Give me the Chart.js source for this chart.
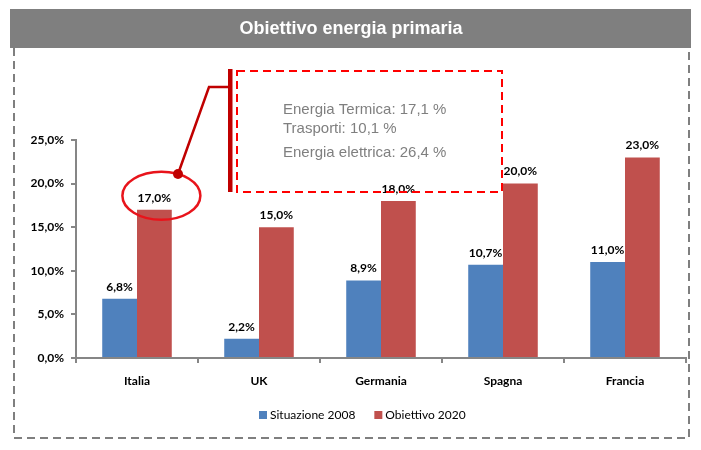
<!DOCTYPE html>
<html>
<head>
<meta charset="utf-8">
<script src="https://cdn.jsdelivr.net/npm/chart.js@4"></script>
<style>
  html, body { margin: 0; padding: 0; background: #fff; }
  #wrap { width: 701px; height: 450px; }
</style>
</head>
<body>
<div id="wrap"><canvas id="myChart" width="701" height="450"></canvas></div>
<script>
const chartTitle = 'Obiettivo energia primaria';
const countries = ['Italia', 'UK', 'Germania', 'Spagna', 'Francia'];
const seriesNames = ['Situazione 2008', 'Obiettivo 2020'];
const situazione2008 = [6.8, 2.2, 8.9, 10.7, 11.0];
const obiettivo2020 = [17.0, 15.0, 18.0, 20.0, 23.0];
const yTicks = [0, 5, 10, 15, 20, 25];
const noteLines = ['Energia Termica: 17,1 %', 'Trasporti: 10,1 %', 'Energia elettrica: 26,4 %'];

const BLUE = '#4F81BD';
const RED = '#C0504D';
const LABEL_FONT = 'Lato, "DejaVu Sans", sans-serif';

function pct(v) {
    return v.toFixed(1).replace('.', ',') + '%';
}

// background, title bar, dashed frame, value labels, callout, legend
const decorations = {
    id: 'decorations',
    beforeDraw(chart) {
        const c = chart.ctx;
        c.save();
        c.fillStyle = '#fff';
        c.fillRect(0, 0, chart.width, chart.height);

        c.strokeStyle = '#7F7F7F';
        c.lineWidth = 2;
        c.setLineDash([8, 5]);
        c.beginPath();
        c.moveTo(14, 48);
        c.lineTo(14, 438);
        c.lineTo(689, 438);
        c.lineTo(689, 48);
        c.stroke();
        c.setLineDash([]);

        c.fillStyle = '#7F7F7F';
        c.fillRect(10, 9, 681, 39);
        c.fillStyle = '#fff';
        c.font = 'bold 18px "Liberation Sans", Arial, sans-serif';
        c.textAlign = 'center';
        c.textBaseline = 'middle';
        c.fillText(chartTitle, 351, 29);
        c.restore();
    },
    afterDatasetsDraw(chart) {
        const c = chart.ctx;
        c.save();
        c.font = 'bold 12px ' + LABEL_FONT;
        c.fillStyle = '#000';
        c.textAlign = 'center';
        c.textBaseline = 'bottom';
        chart.data.datasets.forEach((ds, i) => {
            chart.getDatasetMeta(i).data.forEach((bar, j) => {
                c.fillText(pct(ds.data[j]), bar.x, bar.y - 6);
            });
        });

        // callout on Italia 2020
        const bar = chart.getDatasetMeta(1).data[0];
        const cx = bar.x + 7, cy = bar.y - 14;
        c.strokeStyle = '#E8141B';
        c.lineWidth = 2.5;
        c.beginPath();
        c.ellipse(cx, cy, 39, 24, 0, 0, Math.PI * 2);
        c.stroke();

        c.strokeStyle = '#C00000';
        c.fillStyle = '#C00000';
        c.lineWidth = 2.5;
        c.beginPath();
        c.moveTo(178, 174);
        c.lineTo(209, 87);
        c.lineTo(230, 87);
        c.stroke();
        c.beginPath();
        c.arc(178, 174, 5, 0, Math.PI * 2);
        c.fill();
        c.fillRect(228, 69, 4.5, 123);

        c.strokeStyle = '#FF0000';
        c.lineWidth = 2;
        c.setLineDash([8, 5]);
        c.strokeRect(237, 71, 265, 121);
        c.setLineDash([]);

        c.fillStyle = '#7F7F7F';
        c.font = '15px "Liberation Sans", Arial, sans-serif';
        c.textAlign = 'left';
        c.textBaseline = 'middle';
        const ys = [110, 129, 153];
        noteLines.forEach((t, k) => c.fillText(t, 283, ys[k]));

        // legend
        c.font = '12px ' + LABEL_FONT;
        c.textBaseline = 'middle';
        let x = 259;
        chart.data.datasets.forEach((ds) => {
            c.fillStyle = ds.backgroundColor;
            c.fillRect(x, 411, 8, 8);
            c.fillStyle = '#000';
            c.fillText(ds.label, x + 11, 415.5);
            x += 11 + c.measureText(ds.label).width + 19;
        });
        c.restore();
    }
};

const ctx = document.getElementById('myChart').getContext('2d');
const myChart = new Chart(ctx, {
    type: 'bar',
    data: {
        labels: countries,
        datasets: [{
            label: seriesNames[0],
            data: situazione2008,
            backgroundColor: BLUE,
            categoryPercentage: 0.57,
            barPercentage: 1
        }, {
            label: seriesNames[1],
            data: obiettivo2020,
            backgroundColor: RED,
            categoryPercentage: 0.57,
            barPercentage: 1
        }]
    },
    options: {
        responsive: false,
        animation: false,
        layout: {
            padding: { left: 0, top: 140, right: 15, bottom: 0 }
        },
        plugins: {
            legend: { display: false },
            tooltip: { enabled: false }
        },
        scales: {
            x: {
                afterFit: (s) => { s.height = 92; },
                grid: { drawOnChartArea: false, drawTicks: true, tickLength: 5, color: '#868686', lineWidth: 2 },
                border: { color: '#868686', width: 2 },
                ticks: { color: '#000', padding: 11, font: { family: LABEL_FONT, size: 12, weight: 'bold' } }
            },
            y: {
                min: 0,
                max: 25,
                afterFit: (s) => { s.width = 76; },
                afterBuildTicks: (s) => { s.ticks = yTicks.map(v => ({ value: v })); },
                grid: { drawOnChartArea: false, drawTicks: true, tickLength: 5, color: '#868686', lineWidth: 2 },
                border: { color: '#868686', width: 2 },
                ticks: {
                    color: '#000',
                    padding: 7,
                    font: { family: LABEL_FONT, size: 12, weight: 'bold' },
                    callback: (v) => pct(v)
                }
            }
        }
    },
    plugins: [decorations]
});
</script>
</body>
</html>
